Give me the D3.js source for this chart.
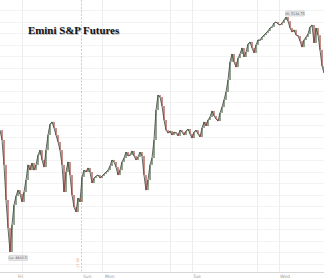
<!DOCTYPE html>
<html><head><meta charset="utf-8">
<script src="https://cdn.jsdelivr.net/npm/d3@7"></script>
<style>html,body{margin:0;padding:0;background:#fff;}svg{display:block;}</style>
</head><body>
<script>
const title = "Emini S&P Futures";
const closes = [
5005.25,4993.75,4964.75,4924.0,4891.5,4863.5,4895.0,4918.25,4928.5,4935.5,
4931.0,4921.75,4933.25,4947.25,4964.75,4958.75,4967.0,4958.75,4964.75,4976.25,
4982.0,4970.5,4962.25,4982.0,4999.5,5012.25,5014.75,5007.75,4999.5,4991.5,
4982.0,4964.75,4933.25,4956.5,4968.25,4953.0,4929.75,4915.75,4910.0,4926.25,
4921.75,4950.75,4958.75,4956.5,4961.25,4956.5,4943.75,4949.5,4951.75,4953.0,
4949.5,4951.75,4954.25,4956.5,4958.75,4963.5,4970.5,4968.25,4962.25,4953.0,
4958.75,4968.25,4972.75,4979.75,4975.25,4976.25,4981.0,4975.25,4970.5,4974.0,
4979.75,4975.25,4953.0,4935.5,4947.25,4964.75,4972.75,4993.75,5028.5,5046.0,
5043.75,5033.25,5017.0,5005.25,5001.75,5004.25,4999.5,5003.0,5001.75,4998.5,
5005.25,5003.0,4999.5,5004.25,5006.5,5000.75,4996.0,5003.0,5005.25,5000.75,
4997.25,5007.75,5014.75,5010.0,5017.0,5020.5,5027.5,5021.75,5018.25,5015.75,
5025.25,5032.0,5040.25,5049.5,5063.5,5084.5,5093.75,5084.5,5078.5,5089.0,
5093.75,5100.75,5090.25,5096.0,5105.25,5107.75,5100.75,5095.0,5104.25,5110.0,
5110.0,5113.5,5115.75,5118.25,5120.5,5124.0,5125.25,5129.75,5131.0,5128.5,
5127.5,5129.75,5133.25,5136.75,5132.0,5124.0,5119.25,5121.75,5115.75,5114.75,
5108.75,5101.75,5110.0,5113.5,5117.0,5125.25,5127.5,5106.5,5124.0,5115.75,
5098.5,5079.75,5071.75
];
const loLabel = "Lo: 4863.5", hiLabel = "Hi: 5136.75";
const dayTickIdx = [11, 51, 85, 96, 128.5, 139.5];
const sessionBreakIdx = 40.5;
const dayLabels = ["Fri", "Sun", "Mon", "Tue", "Wed"];
const dayLabelIdx = [8.5, 41, 52, 96, 139.5];
const breakLabel = "17:00";
const gridValues = d3.range(4836.5, 5180, 13.4);

const W = 324, H = 279;
const svg = d3.select("body").append("svg").attr("width", W).attr("height", H);
const x = d3.scaleLinear().domain([0, closes.length - 1]).range([0, 324]);
const y = d3.scaleLinear().domain([4863.5, 5136.75]).range([252, 17]);

// grid
svg.append("g").selectAll("line").data(gridValues.filter(v => y(v) < 271 && y(v) > 0)).join("line")
  .attr("x1", 0).attr("x2", W).attr("y1", d => Math.round(y(d)) + 0.5).attr("y2", d => Math.round(y(d)) + 0.5)
  .attr("stroke", "#f3f3f3").attr("stroke-width", 1);
svg.append("g").selectAll("line").data(dayTickIdx).join("line")
  .attr("x1", d => Math.round(x(d)) + 0.5).attr("x2", d => Math.round(x(d)) + 0.5).attr("y1", 0).attr("y2", 272)
  .attr("stroke", "#ededed").attr("stroke-width", 1);
svg.append("line").attr("x1", Math.round(x(sessionBreakIdx)) + 0.5).attr("x2", Math.round(x(sessionBreakIdx)) + 0.5)
  .attr("y1", 0).attr("y2", 272).attr("stroke", "#e9b48a").attr("stroke-width", 0.8).attr("stroke-dasharray", "2,1.5");
svg.append("text").attr("transform", `translate(${x(sessionBreakIdx) - 2},268) rotate(-90)`)
  .attr("font-family", "DejaVu Sans").attr("font-size", 3.5).attr("fill", "#d9a27a").text(breakLabel);

// axis
svg.append("line").attr("x1", 0).attr("x2", W).attr("y1", 272.5).attr("y2", 272.5).attr("stroke", "#d6d6d6");
svg.append("g").selectAll("text").data(dayLabels).join("text")
  .attr("x", (d, i) => x(dayLabelIdx[i]) + 1).attr("y", 278)
  .attr("font-family", "DejaVu Sans").attr("font-size", 4.5).attr("fill", "#999").text(d => d);

// price line + candles
const line = d3.line().x((d, i) => x(i)).y(d => y(d));
svg.append("path").datum(closes).attr("d", line).attr("fill", "none").attr("stroke", "#3a3a3a").attr("stroke-width", 0.8);
const candles = closes.slice(1).map((c, i) => ({ i: i + 1, o: closes[i], c }));
svg.append("g").selectAll("rect").data(candles).join("rect")
  .attr("x", d => x(d.i) - 0.7).attr("width", 1.4)
  .attr("y", d => y(Math.max(d.o, d.c)))
  .attr("height", d => Math.max(1, Math.abs(y(d.o) - y(d.c))))
  .attr("fill", d => d.c >= d.o ? "#3d5e3a" : "#9c3a2c").attr("opacity", 0.8);

// hi / lo labels
function tag(txt, cx, cy) {
  const g = svg.append("g");
  g.append("rect").attr("x", cx - 9.5).attr("y", cy - 2.6).attr("width", 19).attr("height", 5.2).attr("rx", 1)
    .attr("fill", "#e6e6e6").attr("stroke", "#b8b8b8").attr("stroke-width", 0.4);
  g.append("text").attr("x", cx).attr("y", cy + 1.2).attr("text-anchor", "middle")
    .attr("font-family", "DejaVu Sans").attr("font-size", 3.3).attr("fill", "#555").text(txt);
}
tag(loLabel, 18, 258);
tag(hiLabel, 295, 13.5);

// title
svg.append("text").attr("x", 28.8).attr("y", 34.8).attr("font-family", "Liberation Serif").attr("font-weight", "bold")
  .attr("font-size", 10.9).attr("fill", "#bbb").text(title);
svg.append("text").attr("x", 28).attr("y", 34).attr("font-family", "Liberation Serif").attr("font-weight", "bold")
  .attr("font-size", 10.9).attr("fill", "#111").text(title);
</script>
</body></html>
